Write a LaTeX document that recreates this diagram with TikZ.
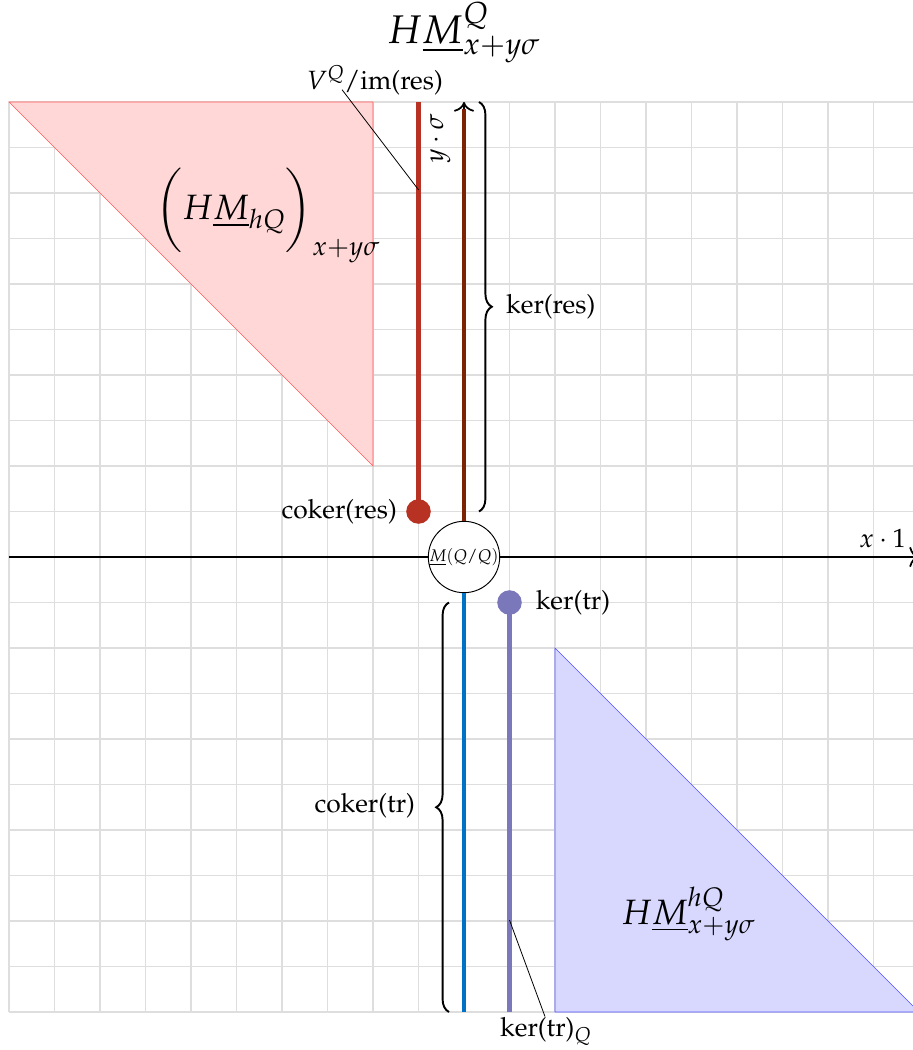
\documentclass[tikz,border=0pt]{standalone}
\usepackage[T1]{fontenc}
\usepackage{mathpazo}
\usetikzlibrary{decorations.pathreplacing,arrows.meta}
\definecolor{resred}{RGB}{184,50,35}
\definecolor{ydark}{RGB}{125,35,0}
\definecolor{trblue}{RGB}{0,114,198}
\definecolor{trpurple}{RGB}{122,120,186}
\definecolor{redfill}{RGB}{255,215,215}
\definecolor{rededge}{RGB}{255,90,90}
\definecolor{bluefill}{RGB}{216,216,255}
\definecolor{blueedge}{RGB}{80,80,255}
\definecolor{gridgray}{RGB}{222,222,222}
\tikzset{
  gridline/.style={draw=gridgray, line width=0.7pt},
  bodytext/.style={font=\fontsize{16.5}{20}\selectfont, inner sep=2pt},
  bigtext/.style={font=\fontsize{22}{26}\selectfont, inner sep=0pt},
  titletext/.style={font=\fontsize{25}{30}\selectfont, inner sep=0pt},
  fatline/.style={line width=2.6pt},
  thinconn/.style={draw=black, line width=0.5pt},
  bracestyle/.style={draw=black, line width=1.2pt, decorate, decoration={brace, amplitude=8pt}},
  dotstyle/.style={circle, inner sep=0pt, minimum size=0.54cm},
  axisline/.style={draw=black, line width=1.1pt}
}
\begin{document}
\begin{tikzpicture}
\useasboundingbox (-10.198,-10.835) rectangle (9.846,12.242);
\draw[gridline] (-10,-10) grid (10,10);
% triangles
\filldraw[fill=redfill, draw=rededge, line width=0.4pt] (-10,10) -- (-2,10) -- (-2,2) -- cycle;
\filldraw[fill=bluefill, draw=blueedge, line width=0.4pt] (2,-2) -- (2,-10) -- (10,-10) -- cycle;
% axes
\coordinate (O) at (0,0);
\coordinate (xstart) at (-10,0);
\coordinate (xend) at (10,0);
\coordinate (ytop) at (0,10);
\draw[axisline, -{To[scale=1.5]}] (xstart) -- (xend);
\draw[axisline, -{To[scale=1.5]}] (O) -- (ytop);
% origin node
\node[circle, draw=black, fill=white, line width=0.6pt, minimum size=1.45cm, inner sep=0pt, font=\fontsize{10.5}{12}\selectfont] (orig) at (0,0) {$\underline{M}(Q/Q)$};
% y line (dark)
\coordinate (ylinetop) at (0,9.85);
\draw[fatline, ydark] (orig.north) -- (ylinetop);
% blue line
\coordinate (bluebot) at (0,-10);
\draw[fatline, trblue] (orig.south) -- (bluebot);
% red line and dot
\coordinate (redtop) at (-1,10);
\node[dotstyle, fill=resred] (rdot) at (-1,1) {};
\draw[fatline, resred] (rdot.center) -- (redtop);
% purple line and dot
\coordinate (purbot) at (1,-10);
\node[dotstyle, fill=trpurple] (pdot) at (1,-1) {};
\draw[fatline, trpurple] (pdot.center) -- (purbot);
% braces
\coordinate (bu1) at (0.33,10);
\coordinate (bu2) at (0.33,1);
\draw[bracestyle] (bu1) -- (bu2);
\coordinate (bl1) at (-0.33,-10);
\coordinate (bl2) at (-0.33,-1);
\draw[bracestyle] (bl1) -- (bl2);
% labels
\node[titletext] (title) at (0,11.52) {$H\underline{M}^{Q}_{x+y\sigma}$};
\node[bigtext] (redlab) at (-4.31,7.52) {$\biggl(H\underline{M}_{hQ}\biggr)_{x+y\sigma}$};
\node[bigtext] (bluelab) at (4.93,-7.85) {$H\underline{M}^{hQ}_{x+y\sigma}$};
\node[bodytext, anchor=east] (cokres) at (-1.4,1) {coker(res)};
\node[bodytext, anchor=west] (kerres) at (0.85,5.5) {ker(res)};
\node[bodytext, anchor=west] (kertr) at (1.5,-1) {ker(tr)};
\node[bodytext, anchor=east] (cokertr) at (-1.0,-5.47) {coker(tr)};
\node[bodytext] (xlab) at (9.2,0.4) {$x\cdot 1$};
\node[bodytext, rotate=90] (ylab) at (-0.52,9.2) {$y\cdot\sigma$};
\node[bodytext] (vq) at (-1.96,10.48) {$V^{Q}$/im(res)};
\node[bodytext] (kq) at (1.8,-10.42) {ker(tr)$_Q$};
% leader lines
\coordinate (vqfoot) at (-2.68,10.27);
\coordinate (redhit) at (-1,8.07);
\draw[thinconn] (vqfoot) -- (redhit);
\coordinate (purhit) at (1,-7.98);
\coordinate (kqfoot) at (1.78,-10.1);
\draw[thinconn] (purhit) -- (kqfoot);
\end{tikzpicture}
\end{document}
